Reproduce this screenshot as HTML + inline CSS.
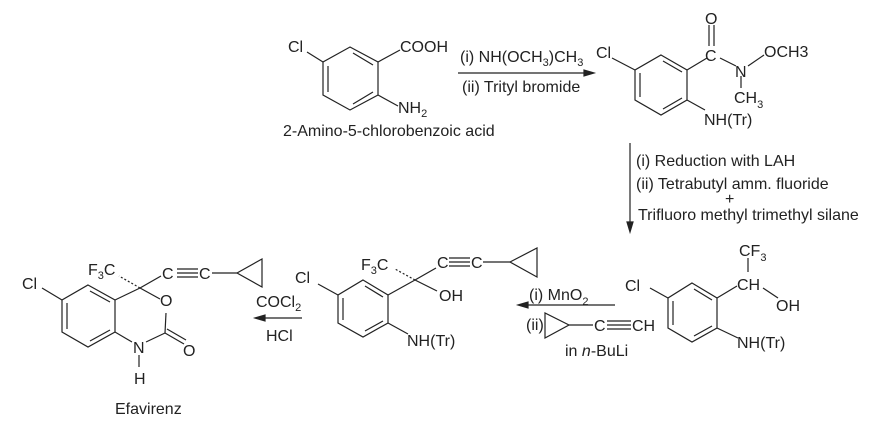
<!DOCTYPE html>
<html><head><meta charset="utf-8"><style>
html,body{margin:0;padding:0;background:#fff;width:869px;height:423px;overflow:hidden}
svg{display:block}
text{font-family:"Liberation Sans",sans-serif;font-size:16px;fill:#222}
.s{font-size:11px}
</style></head><body>
<svg width="869" height="423" viewBox="0 0 869 423" stroke="#222" stroke-width="1.2" fill="none">
<!-- Molecule 1 -->
<polygon points="350,47 378,62 378,95 350,110 323,95 323,62"/>
<line x1="353" y1="53" x2="373" y2="65"/><line x1="328" y1="66" x2="328" y2="92"/><line x1="353" y1="104" x2="373" y2="92"/>
<line x1="323" y1="62" x2="307" y2="52"/><line x1="378" y1="62" x2="400" y2="50"/><line x1="378" y1="95" x2="398" y2="106"/>
<g stroke="none">
<text x="288" y="52">Cl</text><text x="400" y="52">COOH</text>
<text x="398" y="113">NH<tspan class="s" dy="4">2</tspan></text>
<text x="283" y="136">2-Amino-5-chlorobenzoic acid</text>
<text x="460" y="62">(i) NH(OCH<tspan class="s" dy="4">3</tspan><tspan dy="-4">)CH</tspan><tspan class="s" dy="4">3</tspan></text>
<text x="462" y="92">(ii) Trityl bromide</text>
</g>
<line x1="458" y1="73" x2="590" y2="73"/><polygon points="594,73 584,70 584,76" fill="#222"/>
<!-- Molecule 2 -->
<polygon points="661,55 687,70 687,100 661,115 635,100 635,70"/>
<line x1="663" y1="61" x2="682" y2="72"/><line x1="640" y1="73" x2="640" y2="97"/><line x1="663" y1="109" x2="682" y2="98"/>
<line x1="635" y1="70" x2="612" y2="58"/><line x1="687" y1="70" x2="707" y2="58"/>
<line x1="709" y1="25" x2="709" y2="46"/><line x1="714" y1="25" x2="714" y2="46"/>
<line x1="720" y1="58" x2="736" y2="66"/><line x1="748" y1="66" x2="764" y2="55"/><line x1="741" y1="76" x2="741" y2="88"/>
<line x1="687" y1="100" x2="705" y2="110"/>
<g stroke="none">
<text x="596" y="58">Cl</text><text x="705" y="61">C</text><text x="705" y="24">O</text><text x="735" y="77">N</text>
<text x="764" y="57">OCH3</text><text x="734" y="103">CH<tspan class="s" dy="5">3</tspan></text>
<text x="704" y="125">NH(Tr)</text>
<text x="636" y="166">(i) Reduction with LAH</text>
<text x="636" y="189">(ii) Tetrabutyl amm. fluoride</text>
<text x="725" y="204">+</text>
<text x="638" y="220">Trifluoro methyl trimethyl silane</text>
</g>
<line x1="630" y1="143" x2="630" y2="225"/><polygon points="630,232 627,222 633,222" fill="#222"/>
<!-- Molecule 3 (bottom right) -->
<polygon points="692,283 717,298 717,328 692,342 668,328 668,298"/>
<line x1="694" y1="289" x2="712" y2="300"/><line x1="673" y1="301" x2="673" y2="325"/><line x1="694" y1="336" x2="712" y2="326"/>
<line x1="668" y1="298" x2="650" y2="288"/><line x1="717" y1="298" x2="737" y2="286"/>
<line x1="748" y1="258" x2="748" y2="272"/><line x1="763" y1="288" x2="778" y2="298"/><line x1="717" y1="328" x2="738" y2="338"/>
<g stroke="none">
<text x="625" y="291">Cl</text><text x="737" y="290">CH</text><text x="739" y="256">CF<tspan class="s" dy="5">3</tspan></text>
<text x="776" y="311">OH</text><text x="737" y="348">NH(Tr)</text>
<text x="529" y="300">(i) MnO<tspan class="s" dy="5">2</tspan></text>
<text x="526" y="330">(ii)</text><text x="594" y="331">C</text><text x="632" y="331">CH</text>
<text x="565" y="356">in <tspan font-style="italic">n</tspan>-BuLi</text>
</g>
<line x1="615" y1="305" x2="525" y2="305"/><polygon points="518,305 528,302 528,308" fill="#222"/>
<polygon points="545,313 545,338 569,325"/><line x1="569" y1="325" x2="593" y2="325"/>
<line x1="607" y1="321" x2="631" y2="321"/><line x1="607" y1="325" x2="631" y2="325"/><line x1="607" y1="329" x2="631" y2="329"/>
<!-- Molecule 4 (middle) -->
<polygon points="363,280 388,295 388,323 363,337 338,323 338,295"/>
<line x1="365" y1="286" x2="383" y2="297"/><line x1="343" y1="298" x2="343" y2="320"/><line x1="365" y1="331" x2="383" y2="321"/>
<line x1="338" y1="295" x2="318" y2="284"/><line x1="388" y1="295" x2="415" y2="280"/>
<line x1="415" y1="280" x2="395" y2="269" stroke-dasharray="2,2"/>
<line x1="415" y1="280" x2="436" y2="268"/><line x1="415" y1="280" x2="437" y2="291"/>
<line x1="388" y1="323" x2="408" y2="334"/>
<line x1="449" y1="258" x2="470" y2="258"/><line x1="449" y1="262" x2="470" y2="262"/><line x1="449" y1="266" x2="470" y2="266"/>
<line x1="483" y1="262" x2="510" y2="262"/><polygon points="510,262 537,248 537,277"/>
<g stroke="none">
<text x="295" y="283">Cl</text><text x="361" y="270">F<tspan class="s" dy="4">3</tspan><tspan dy="-4">C</tspan></text>
<text x="437" y="268">C</text><text x="471" y="268">C</text><text x="439" y="301">OH</text><text x="407" y="346">NH(Tr)</text>
<text x="256" y="307">COCl<tspan class="s" dy="4">2</tspan></text><text x="266" y="341">HCl</text>
</g>
<line x1="302" y1="318" x2="262" y2="318"/><polygon points="255,318 265,315 265,321" fill="#222"/>
<!-- Efavirenz -->
<polygon points="88,285 115,300 115,332 88,347 62,332 62,300"/>
<line x1="90" y1="291" x2="110" y2="302"/><line x1="67" y1="303" x2="67" y2="329"/><line x1="90" y1="341" x2="110" y2="330"/>
<line x1="62" y1="300" x2="42" y2="288"/><line x1="115" y1="300" x2="140" y2="288"/>
<line x1="115" y1="332" x2="132" y2="342"/><line x1="146" y1="342" x2="165" y2="333"/>
<line x1="140" y1="288" x2="160" y2="299"/><line x1="165" y1="333" x2="166" y2="313"/>
<line x1="165" y1="333" x2="184" y2="344"/><line x1="167" y1="329" x2="186" y2="340"/>
<line x1="139" y1="355" x2="139" y2="367"/>
<line x1="140" y1="288" x2="119" y2="276" stroke-dasharray="2,2"/><line x1="140" y1="288" x2="161" y2="276"/>
<line x1="177" y1="269" x2="198" y2="269"/><line x1="177" y1="273" x2="198" y2="273"/><line x1="177" y1="277" x2="198" y2="277"/>
<line x1="212" y1="273" x2="237" y2="273"/><polygon points="237,273 262,259 262,287"/>
<g stroke="none">
<text x="22" y="289">Cl</text><text x="88" y="275">F<tspan class="s" dy="4">3</tspan><tspan dy="-4">C</tspan></text>
<text x="162" y="279">C</text><text x="199" y="279">C</text><text x="160" y="306">O</text>
<text x="133" y="353">N</text><text x="183" y="356">O</text><text x="134" y="384">H</text>
<text x="115" y="414">Efavirenz</text>
</g>
</svg>
</body></html>
